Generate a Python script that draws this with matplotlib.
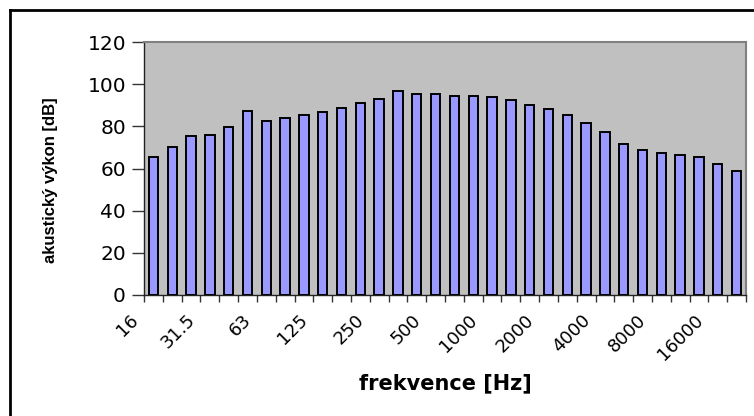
import matplotlib
matplotlib.use("Agg")
import matplotlib.pyplot as plt
from matplotlib.lines import Line2D

freqs = ["16", "20", "25", "31.5", "40", "50", "63", "80", "100", "125", "160", "200",
         "250", "315", "400", "500", "630", "800", "1000", "1250", "1600", "2000", "2500",
         "3150", "4000", "5000", "6300", "8000", "10000", "12500", "16000", "20000"]
power_db = [65.4, 70.4, 75.2, 76.0, 79.6, 87.5, 82.5, 83.9, 85.3, 86.7, 88.9, 91.0,
            93.1, 96.9, 95.1, 95.1, 94.6, 94.6, 93.9, 92.4, 90.2, 88.2, 85.3, 81.7,
            77.4, 71.7, 68.9, 67.4, 66.6, 65.4, 62.3, 58.7]
shown_labels = ["16", "31.5", "63", "125", "250", "500", "1000", "2000", "4000", "8000", "16000"]
y_ticks = [0, 20, 40, 60, 80, 100, 120]

W, H = 754, 416
fig = plt.figure(figsize=(W / 100, H / 100), dpi=100)
fig.patch.set_facecolor("white")

ax = fig.add_axes([144 / W, 1 - 295 / H, (746 - 144) / W, (295 - 42) / H])
ax.set_facecolor("#C0C0C0")

x = list(range(len(freqs)))
ax.bar(x, power_db, width=0.5, color="#9999FF", edgecolor="black", linewidth=1.4, zorder=3)

ax.set_xlim(-0.5, len(freqs) - 0.5)
ax.set_ylim(0, 120)
ax.set_yticks(y_ticks)
ax.set_yticklabels([str(v) for v in y_ticks], fontsize=14.5, family="DejaVu Sans")

ticks_pos = [i - 0.5 for i in range(len(freqs) + 1)]
ax.set_xticks(ticks_pos)
ax.set_xticklabels([])
ax.tick_params(axis="x", direction="out", length=5, width=1, color="#333333")
ax.tick_params(axis="y", direction="out", length=9, width=1, color="#333333", pad=4)

for lab in shown_labels:
    i = freqs.index(lab)
    ax.annotate(lab, xy=(i - 0.5, 0), xycoords=("data", "axes fraction"),
                xytext=(-6, -16), textcoords="offset points",
                rotation=45, ha="right", va="center", rotation_mode="anchor",
                fontsize=13, family="DejaVu Sans")

for s in ["top", "right"]:
    ax.spines[s].set_color("#808080")
    ax.spines[s].set_linewidth(1.5)
for s in ["left", "bottom"]:
    ax.spines[s].set_color("#222222")
    ax.spines[s].set_linewidth(1)

fig.text(445 / W, 1 - 383 / H, "frekvence [Hz]", ha="center", va="center",
         fontsize=15, fontweight="bold", family="DejaVu Sans")
fig.text(50 / W, 1 - 180 / H, "akustický výkon [dB]", ha="center", va="center",
         rotation=90, fontsize=12, fontweight="bold", family="Liberation Sans")

# outer chart frame
fig.add_artist(Line2D([10 / W, 1], [1 - 10 / H, 1 - 10 / H], color="black", linewidth=2,
                      transform=fig.transFigure))
fig.add_artist(Line2D([10 / W, 10 / W], [1 - 10 / H, 0], color="black", linewidth=2,
                      transform=fig.transFigure))

fig.savefig("out.png", dpi=100)
